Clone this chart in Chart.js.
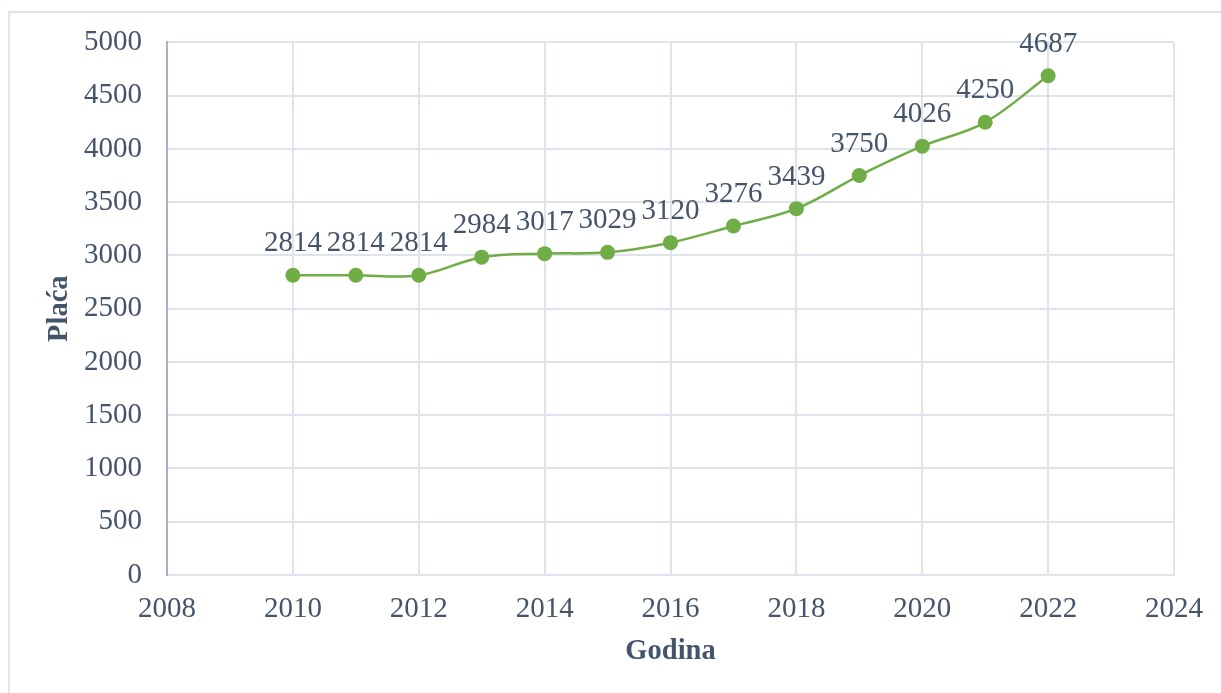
<!DOCTYPE html>
<html>
<head>
<meta charset="utf-8">
<script src="https://cdn.jsdelivr.net/npm/chart.js@4/dist/chart.umd.min.js"></script>
<style>
  html, body { margin: 0; padding: 0; background: #fff; }
  #wrap { width: 1221px; height: 693px; position: relative; }
</style>
</head>
<body>
<div id="wrap"><canvas id="placaChart"></canvas></div>
<script>
const years = [2010, 2011, 2012, 2013, 2014, 2015, 2016, 2017, 2018, 2019, 2020, 2021, 2022];
const placa = [2814, 2814, 2814, 2984, 3017, 3029, 3120, 3276, 3439, 3750, 4026, 4250, 4687];
const xTicks = [2008, 2010, 2012, 2014, 2016, 2018, 2020, 2022, 2024];
const yTicks = [0, 500, 1000, 1500, 2000, 2500, 3000, 3500, 4000, 4500, 5000];

const textColor = '#44546a';
const gridColor = '#dfe3ea';
const serif = "'Liberation Serif', 'Times New Roman', serif";

// outer frame + value labels above the points
const decor = {
    id: 'decor',
    beforeDraw(chart) {
        const c = chart.ctx;
        c.save();
        c.strokeStyle = '#e1e4ea';
        c.lineWidth = 2;
        c.strokeRect(9, 12, 1240, 720);
        c.restore();
    },
    afterDatasetsDraw(chart) {
        const c = chart.ctx;
        const meta = chart.getDatasetMeta(0);
        c.save();
        c.font = '29px ' + serif;
        c.fillStyle = textColor;
        c.textAlign = 'center';
        c.textBaseline = 'alphabetic';
        meta.data.forEach((pt, i) => {
            c.fillText(String(placa[i]), pt.x, pt.y - 24);
        });
        c.restore();
    }
};

const ctx = document.getElementById('placaChart').getContext('2d');
const chart = new Chart(ctx, {
    type: 'scatter',
    data: {
        datasets: [{
            label: 'Plaća',
            data: years.map((y, i) => ({ x: y, y: placa[i] })),
            showLine: true,
            borderColor: '#70ad47',
            backgroundColor: '#70ad47',
            borderWidth: 2.5,
            pointRadius: 7.5,
            pointHoverRadius: 7.5,
            pointBorderWidth: 0,
            tension: 0.35
        }]
    },
    options: {
        responsive: true,
        maintainAspectRatio: false,
        animation: false,
        layout: { padding: { top: 41, right: 47, left: 0, bottom: 0 } },
        plugins: {
            legend: { display: false },
            tooltip: { enabled: false }
        },
        scales: {
            x: {
                type: 'linear',
                min: 2008,
                max: 2024,
                afterFit: s => { s.height = 118; },
                afterBuildTicks: s => { s.ticks = xTicks.map(v => ({ value: v })); },
                ticks: {
                    color: textColor,
                    font: { family: serif, size: 29 },
                    padding: 17,
                    callback: v => String(v)
                },
                grid: { color: gridColor, lineWidth: 2, drawTicks: false },
                border: { color: gridColor, width: 2 },
                title: {
                    display: true,
                    text: 'Godina',
                    color: textColor,
                    font: { family: serif, size: 28.5, weight: 'bold' },
                    padding: { top: 0, bottom: 24 }
                }
            },
            y: {
                min: 0,
                max: 5000,
                afterFit: s => { s.width = 167; },
                afterBuildTicks: s => { s.ticks = yTicks.map(v => ({ value: v })); },
                ticks: {
                    color: textColor,
                    font: { family: serif, size: 29 },
                    padding: 25,
                    callback: v => String(v)
                },
                grid: { color: gridColor, lineWidth: 2, drawTicks: false },
                border: { color: '#a9b1c0', width: 2 },
                title: {
                    display: true,
                    text: 'Plaća',
                    color: textColor,
                    font: { family: serif, size: 28.5, weight: 'bold' },
                    padding: { top: 43, bottom: 0 }
                }
            }
        }
    },
    plugins: [decor]
});
</script>
</body>
</html>
